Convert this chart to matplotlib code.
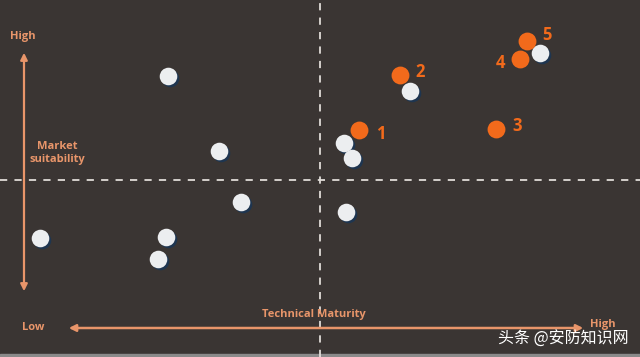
import matplotlib
matplotlib.use("Agg")
import matplotlib.pyplot as plt

plt.rcParams["font.family"] = ["Open Sans", "Noto Sans CJK SC", "DejaVu Sans"]

# ── DATA (positions, pixel-like scale) ────────────────────────────────────────
white_x = [168, 219, 241, 40, 166, 158, 346, 344, 352, 410, 540]
white_y = [76, 151, 202, 238, 237, 259, 212, 143, 158, 91, 53]

orange_x = [359, 400, 496, 520, 527]
orange_y = [130, 75, 129, 59, 41]
orange_labels = ["1", "2", "3", "4", "5"]

BG = "#3a3533"
ORANGE = "#f26a1b"
AXIS_C = "#e8956a"
WHITE = "#eceef0"

# ── FIGURE ───────────────────────────────────────────────────────────────────
fig = plt.figure(figsize=(6.4, 3.57), dpi=100, facecolor=BG)
ax = fig.add_axes([0, 0, 1, 1])
ax.set_facecolor(BG)
ax.set_xlim(0, 640)
ax.set_ylim(357, 0)
ax.axis("off")

# quadrant lines
ax.axvline(320, color="#e0dcd8", lw=1.3, ls=(0, (4, 4)))
ax.axhline(180, color="#e0dcd8", lw=1.3, ls=(0, (4, 4)))

# axis arrows
ax.annotate("", xy=(24, 50), xytext=(24, 294),
            arrowprops=dict(arrowstyle="<|-|>,head_length=0.4,head_width=0.2",
                            color=AXIS_C, lw=1.6))
ax.annotate("", xy=(66, 328), xytext=(586, 328),
            arrowprops=dict(arrowstyle="<|-|>,head_length=0.4,head_width=0.2",
                            color=AXIS_C, lw=1.8))

tkw = dict(color=AXIS_C, fontsize=8, fontweight="bold")
ax.text(23, 36, "High", ha="center", va="center", **tkw)
ax.text(57, 153, "Market\nsuitability", ha="center", va="center", linespacing=1.2, **tkw)
ax.text(33, 328, "Low", ha="center", va="center", **tkw)
ax.text(314, 315, "Technical Maturity", ha="center", va="center", **tkw)
ax.text(603, 325, "High", ha="center", va="center", **tkw)

# points
ax.scatter([x + 1.5 for x in white_x], [y + 1.5 for y in white_y],
           s=160, color="#1e3550", zorder=3, linewidths=0)
ax.scatter(white_x, white_y, s=160, color=WHITE, zorder=4, linewidths=0)
ax.scatter(orange_x, orange_y, s=165, color=ORANGE, zorder=5, linewidths=0)

offsets = {"1": (22, 4), "2": (20, -3), "3": (21, -3), "4": (-19, 4), "5": (20, -6)}
for x, y, lab in zip(orange_x, orange_y, orange_labels):
    dx, dy = offsets[lab]
    ax.text(x + dx, y + dy, lab, color=ORANGE, fontsize=12, fontweight="bold",
            ha="center", va="center", zorder=6)

# bottom frame strip
ax.axhspan(354, 357, color="#8a8a8a", zorder=1)

# watermark
ax.text(563, 339, "头条 @安防知识网", color="white", fontsize=11.5,
        family=["Noto Sans CJK SC", "DejaVu Sans"], ha="center", va="center", zorder=7)

fig.savefig("out.png", dpi=100, facecolor=BG)
